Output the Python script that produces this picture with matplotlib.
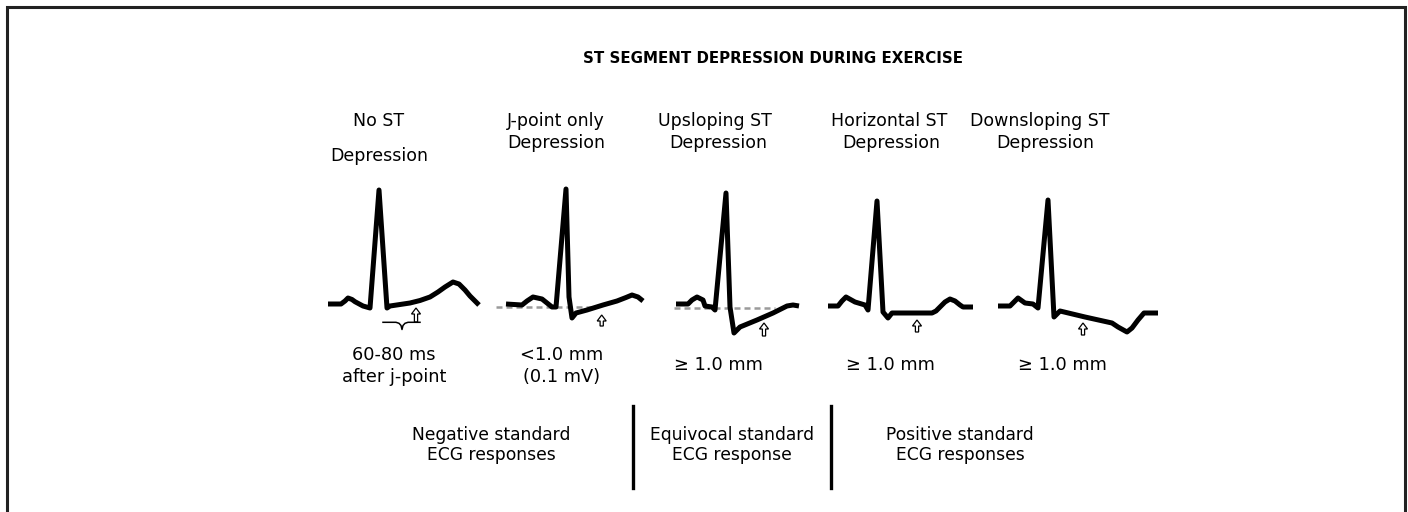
import numpy as np
import matplotlib
matplotlib.use("Agg")
import matplotlib.pyplot as plt
from matplotlib.patches import FancyArrow

# canvas is laid out in pixels (1408 x 512), y grows downward
W, H = 1408, 512

title = "ST SEGMENT DEPRESSION DURING EXERCISE"

# column headers: (line1, line2, x centre)
head_top = ["No ST", "J-point only", "Upsloping ST", "Horizontal ST", "Downsloping ST"]
head_bottom = ["Depression", "Depression", "Depression", "Depression", "Depression"]
head_x = [379, 556, 715, 889, 1040]
head_bottom_x = [379, 556, 718, 891, 1045]

# criteria under each beat
crit_top = ["60-80 ms", "<1.0 mm", "\u2265 1.0 mm", "\u2265 1.0 mm", "\u2265 1.0 mm"]
crit_bottom = ["after j-point", "(0.1 mV)", "", "", ""]
crit_x = [394, 562, 718, 890, 1062]

# response groups
group_top = ["Negative standard", "Equivocal standard", "Positive standard"]
group_bottom = ["ECG responses", "ECG response", "ECG responses"]
group_x = [491, 732, 960]
divider_x = [632.5, 830.5]

# beats: start x, baseline y, then (t, amplitude) samples
beat_x0 = [328, 506, 676, 828, 998]
beat_base = [304, 304, 304, 306, 306]

beat1_t = [0, 13, 17, 20, 24, 27, 35, 42, 51, 59, 62, 72, 82, 92, 102, 110, 117, 125, 131, 137, 142, 147, 151]
beat1_v = [0, 0, 3, 6, 4.5, 2.3, -2, -4, 114, -4, -2, -0.5, 1, 3.5, 7, 12, 17, 22, 20, 14, 8, 3, -1]

beat2_t = [0, 16, 21, 27, 36, 46, 50, 60, 63, 66, 70, 81, 97, 111, 120, 126, 132, 137]
beat2_v = [0, -1, 3, 7, 5, -3, -3, 115, 7, -14, -9, -6, -1, 3, 6.5, 9, 7, 3]

beat3_t = [0, 12, 16, 21, 27, 29, 36, 39, 50, 54, 58, 64, 81, 97, 111, 117, 123]
beat3_v = [0, 0, 4, 7, 4, -2, -3, -6, 111, -3, -29, -23, -16, -9, -2, -1, -2]

beat4_t = [0, 10, 14, 18, 27, 37, 40, 49, 55, 60, 64, 104, 108, 112, 117, 122, 127, 132, 135, 145]
beat4_v = [0, 0, 5, 9, 4, 1, -4, 105, -6, -12, -7, -7, -5, -1, 4, 7, 5, 1, -1, -1]

beat5_t = [0, 12, 16, 20, 27, 35, 40, 50, 56, 62, 87, 114, 120, 129, 134, 140, 146, 160]
beat5_v = [0, 0, 4, 8, 3, 2, -2, 106, -11, -5, -11, -17, -21, -26, -22, -14, -7, -7]

beats_t = [beat1_t, beat2_t, beat3_t, beat4_t, beat5_t]
beats_v = [beat1_v, beat2_v, beat3_v, beat4_v, beat5_v]

# dashed isoelectric reference (beats 2, 3): x start, x end, y
ref_x0 = [496, 674]
ref_x1 = [597, 775]
ref_y = [306.7, 308.3]

# hollow arrows pointing at the measurement point: x, tip y, length
arrow_x = [416, 601.7, 764, 917, 1083]
arrow_tip = [308, 315, 323, 320, 323]
arrow_len = [14, 11, 13, 12, 12]

fig = plt.figure(figsize=(W / 100, H / 100), dpi=100)
ax = fig.add_axes([0, 0, 1, 1])
ax.set_xlim(0, W)
ax.set_ylim(H, 0)
ax.axis("off")

# frame (bottom edge is cut off in the source)
ax.plot([7, 7, 1404.5, 1404.5], [H, 6.5, 6.5, H], color="#222222", lw=2.2,
        solid_joinstyle="miter")

ax.text(773, 63, title, ha="center", va="baseline", fontsize=10.8,
        fontweight="bold", color="black")

for i in range(5):
    y2 = 161 if i == 0 else 148
    ax.text(head_x[i], 126, head_top[i], ha="center", va="baseline", fontsize=12.5)
    ax.text(head_bottom_x[i], y2, head_bottom[i], ha="center", va="baseline", fontsize=12.5)
    if crit_bottom[i]:
        ax.text(crit_x[i], 360, crit_top[i], ha="center", va="baseline", fontsize=12.8)
        ax.text(crit_x[i], 381.5, crit_bottom[i], ha="center", va="baseline", fontsize=12.8)
    else:
        ax.text(crit_x[i], 370.5, crit_top[i], ha="center", va="baseline", fontsize=12.8)

for i in range(len(ref_y)):
    ax.plot([ref_x0[i], ref_x1[i]], [ref_y[i], ref_y[i]], color="#9a9a9a", lw=1.8,
            linestyle=(0, (2.4, 1.6)), zorder=2)

for i in range(5):
    t = np.array(beats_t[i], dtype=float)
    v = np.array(beats_v[i], dtype=float)
    ax.plot(beat_x0[i] + t, beat_base[i] - v, color="black", lw=3.6,
            solid_joinstyle="round", solid_capstyle="butt", zorder=3)

for i in range(5):
    ax.add_patch(FancyArrow(arrow_x[i], arrow_tip[i] + arrow_len[i], 0, -arrow_len[i],
                            width=3.2, head_width=9, head_length=6,
                            length_includes_head=True, facecolor="white",
                            edgecolor="black", lw=0.9, zorder=4))

# brace under the first beat (60-80 ms window after the j-point)
brace_x = [383, 396, 399, 401, 402, 403, 405, 408, 420]
brace_y = [322.3, 322.3, 323.3, 325.5, 329.5, 325.5, 323.3, 322.3, 322.3]
ax.plot(brace_x, brace_y, color="black", lw=1.1, zorder=4)

for i in range(3):
    ax.text(group_x[i], 440, group_top[i], ha="center", va="baseline", fontsize=12.3)
    ax.text(group_x[i], 460, group_bottom[i], ha="center", va="baseline", fontsize=12.3)

for x in divider_x:
    ax.plot([x, x], [406, 488], color="black", lw=2.4)

fig.savefig("out.png", dpi=100)
